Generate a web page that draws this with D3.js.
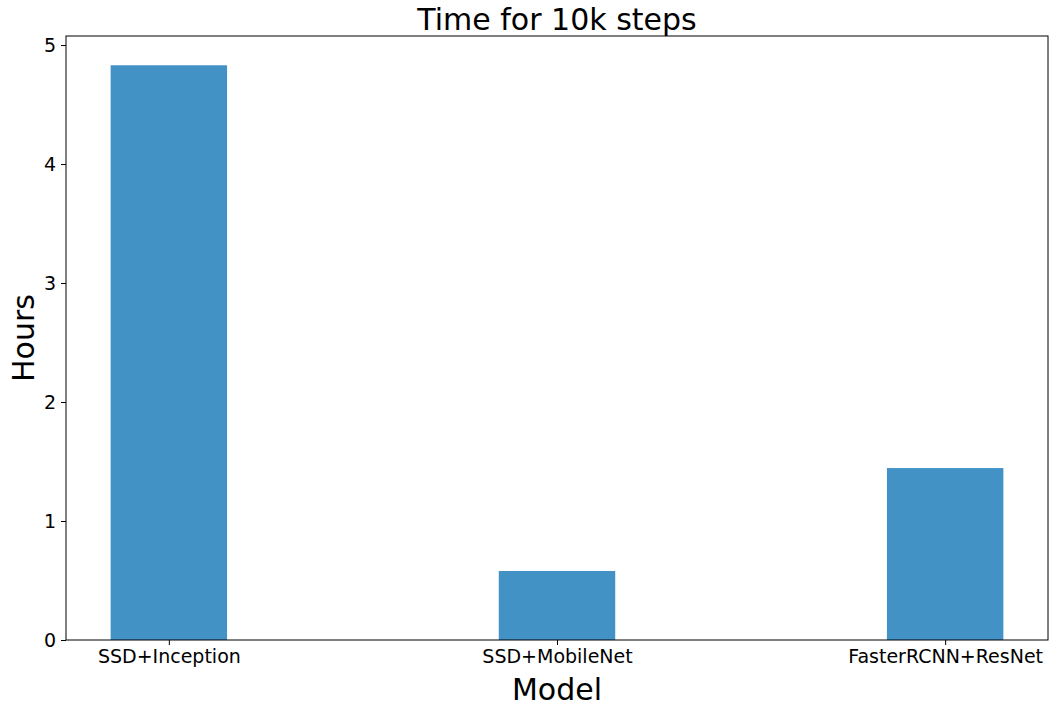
<!DOCTYPE html>
<html><head><meta charset="utf-8">
<script src="https://cdn.jsdelivr.net/npm/d3@7"></script>
<style>body{margin:0;background:#fff}text{font-family:"DejaVu Sans",sans-serif}</style>
</head><body><svg id="c" width="1058" height="712"></svg>
<script>
const categories = ["SSD+Inception","SSD+MobileNet","FasterRCNN+ResNet"];
const hours = [4.83, 0.58, 1.445];
const yTicks = [0,1,2,3,4,5];

const svg = d3.select("#c");
const L=66,R=1048,T=36,B=640;
const x = d3.scaleLinear().domain([-0.265,2.265]).range([L,R]);
const y = d3.scaleLinear().domain([0,5.076]).range([B,T]);
const bw = 0.3;

svg.selectAll("rect.bar").data(hours).enter().append("rect")
  .attr("x",(d,i)=>x(i-bw/2)).attr("width",(d,i)=>x(i+bw/2)-x(i-bw/2))
  .attr("y",d=>y(d)).attr("height",d=>B-y(d)).attr("fill","#4292c6");

svg.append("rect").attr("x",L).attr("y",T).attr("width",R-L).attr("height",B-T)
  .attr("fill","none").attr("stroke","#000").attr("stroke-width",1);

const ya = svg.append("g").attr("transform",`translate(${L},0)`)
  .call(d3.axisLeft(y).tickValues(yTicks).tickSize(5).tickPadding(5).tickFormat(d3.format("d")));
const xa = svg.append("g").attr("transform",`translate(0,${B})`)
  .call(d3.axisBottom(x).tickValues([0,1,2]).tickSize(5).tickPadding(5).tickFormat(i=>categories[i]));
[ya,xa].forEach(a=>{a.select(".domain").remove();a.selectAll("text").attr("font-size",19).attr("fill","#000").style("font-family","DejaVu Sans");});

svg.append("text").attr("x",(L+R)/2).attr("y",30).attr("text-anchor","middle").attr("font-size",30).text("Time for 10k steps");
svg.append("text").attr("x",(L+R)/2).attr("y",700).attr("text-anchor","middle").attr("font-size",30).text("Model");
svg.append("text").attr("transform",`translate(34,${(T+B)/2}) rotate(-90)`).attr("text-anchor","middle").attr("font-size",30).text("Hours");
</script></body></html>
